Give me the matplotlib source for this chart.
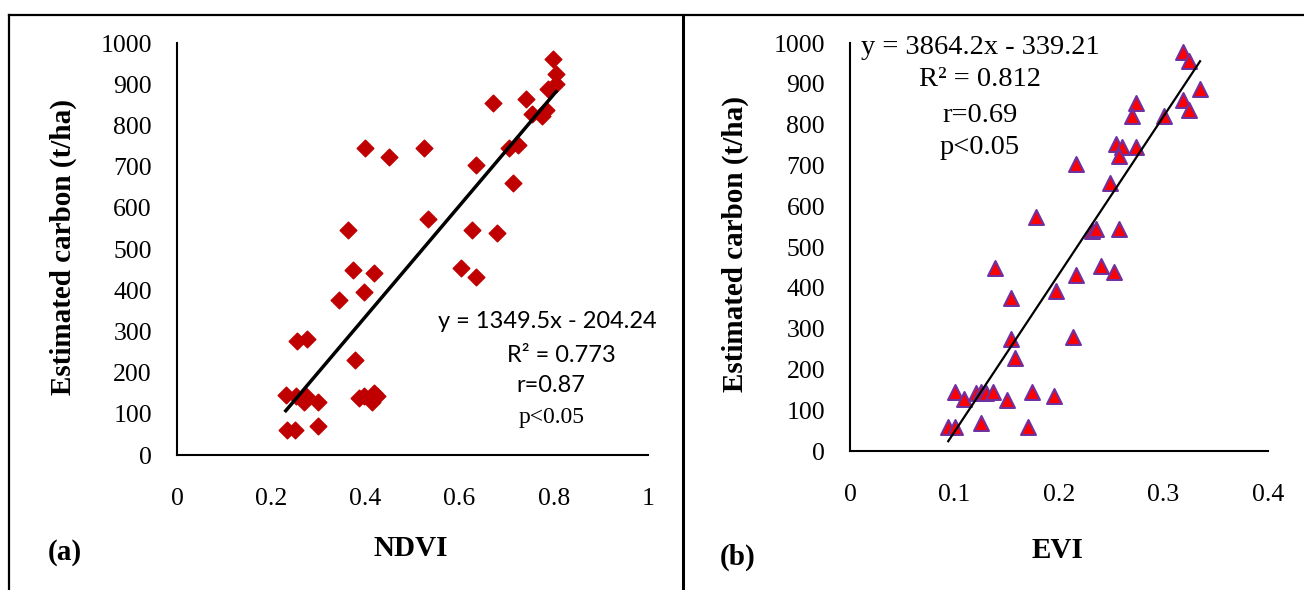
import matplotlib
matplotlib.use("Agg")
import matplotlib.pyplot as plt
from matplotlib.lines import Line2D

# Data
ndvi = [0.798, 0.805, 0.805, 0.787, 0.670, 0.740, 0.753, 0.776, 0.783, 0.400,
        0.451, 0.525, 0.704, 0.723, 0.634, 0.714, 0.533, 0.364, 0.626, 0.679,
        0.373, 0.418, 0.603, 0.635, 0.398, 0.344, 0.255, 0.277, 0.377, 0.231,
        0.253, 0.274, 0.270, 0.299, 0.386, 0.397, 0.418, 0.424, 0.415, 0.233,
        0.251, 0.299]
carbon_ndvi = [960, 924, 900, 888, 855, 864, 827, 823, 837, 744,
               724, 744, 744, 752, 704, 659, 574, 546, 546, 538,
               450, 441, 455, 433, 395, 376, 277, 282, 231, 146,
               144, 144, 128, 128, 138, 144, 150, 144, 128, 61,
               61, 70]

evi = [0.319, 0.324, 0.335, 0.319, 0.324, 0.274, 0.270, 0.300, 0.255, 0.260,
       0.274, 0.257, 0.216, 0.249, 0.178, 0.232, 0.235, 0.257, 0.139, 0.240,
       0.216, 0.253, 0.197, 0.154, 0.154, 0.213, 0.158, 0.100, 0.109, 0.121,
       0.125, 0.130, 0.137, 0.150, 0.174, 0.195, 0.125, 0.094, 0.100, 0.170]
carbon_evi = [979, 957, 887, 860, 837, 854, 821, 821, 752, 744,
              744, 723, 703, 658, 573, 538, 543, 543, 448, 454,
              431, 439, 393, 374, 275, 280, 227, 145, 127, 141,
              145, 143, 145, 125, 145, 135, 69, 58, 58, 58]

ndvi_fit = (1349.5, -204.24)
evi_fit = (3864.2, -339.21)

ndvi_ticks = [0, 0.2, 0.4, 0.6, 0.8, 1]
ndvi_ticklabels = ["0", "0.2", "0.4", "0.6", "0.8", "1"]
evi_ticks = [0, 0.1, 0.2, 0.3, 0.4]
evi_ticklabels = ["0", "0.1", "0.2", "0.3", "0.4"]
y_ticks = list(range(0, 1001, 100))

W, H = 1304, 590
SERIF = "Liberation Serif"
SANS = "Lato"


def fp(x, y):
    # pixel position -> figure fraction
    return x / W, 1 - y / H


fig = plt.figure(figsize=(W / 100, H / 100), dpi=100)
ax1 = fig.add_axes([177 / W, 1 - 455 / H, (648 - 177) / W, (455 - 43) / H])
ax2 = fig.add_axes([850 / W, 1 - 451 / H, (1268 - 850) / W, (451 - 43) / H])

for ax in (ax1, ax2):
    ax.spines["top"].set_visible(False)
    ax.spines["right"].set_visible(False)
    ax.spines["left"].set_linewidth(1.5)
    ax.spines["bottom"].set_linewidth(1.5)
    ax.set_ylim(0, 1000)
    ax.set_yticks(y_ticks)
    ax.tick_params(length=0, labelsize=18.5)
    ax.tick_params(axis="y", pad=18)
    ax.tick_params(axis="x", pad=24)

# (a) NDVI
ax1.set_xlim(0, 1)
ax1.set_xticks(ndvi_ticks)
ax1.set_xticklabels(ndvi_ticklabels)
ax1.scatter(ndvi, carbon_ndvi, marker="D", s=72, color="#C00000", zorder=3)
xs = [min(ndvi), max(ndvi)]
ax1.plot(xs, [ndvi_fit[0] * x + ndvi_fit[1] for x in xs], color="black", lw=2.5, zorder=4)

# (b) EVI
ax2.set_xlim(0, 0.4)
ax2.set_xticks(evi_ticks)
ax2.set_xticklabels(evi_ticklabels)
ax2.scatter(evi, carbon_evi, marker="^", s=115, facecolor="#FF0000",
            edgecolor="#7030A0", linewidth=1.5, zorder=3)
xs = [min(evi), max(evi)]
ax2.plot(xs, [evi_fit[0] * x + evi_fit[1] for x in xs], color="black", lw=1.6, zorder=4)

for ax in (ax1, ax2):
    for lab in ax.get_xticklabels() + ax.get_yticklabels():
        lab.set_fontfamily(SERIF)

# axis titles
ylab = "Estimated carbon (t/ha)"
fig.text(*fp(63, 247), ylab, rotation=90, ha="center", va="center",
         fontfamily=SERIF, fontweight="bold", fontsize=21)
fig.text(*fp(735, 244), ylab, rotation=90, ha="center", va="center",
         fontfamily=SERIF, fontweight="bold", fontsize=21)
fig.text(*fp(411, 548), "NDVI", ha="center", va="center",
         fontfamily=SERIF, fontweight="bold", fontsize=21)
fig.text(*fp(1058, 551), "EVI", ha="center", va="center",
         fontfamily=SERIF, fontweight="bold", fontsize=21)
fig.text(*fp(65, 553), "(a)", ha="center", va="center",
         fontfamily=SERIF, fontweight="bold", fontsize=21)
fig.text(*fp(738, 557), "(b)", ha="center", va="center",
         fontfamily=SERIF, fontweight="bold", fontsize=21)

# regression annotations
fig.text(*fp(547, 322), "y = 1349.5x - 204.24", ha="center", va="center",
         fontfamily=SANS, fontsize=17)
fig.text(*fp(561, 355), "R² = 0.773", ha="center", va="center",
         fontfamily=SANS, fontsize=17)
fig.text(*fp(551, 385), "r=0.87", ha="center", va="center",
         fontfamily=SANS, fontsize=17)
fig.text(*fp(552, 418), "p<0.05", ha="center", va="center",
         fontfamily=SERIF, fontsize=17)

fig.text(*fp(980, 47), "y = 3864.2x - 339.21", ha="center", va="center",
         fontfamily=SERIF, fontsize=20.5)
fig.text(*fp(980, 80), "R² = 0.812", ha="center", va="center",
         fontfamily=SERIF, fontsize=20.5)
fig.text(*fp(980, 115), "r=0.69", ha="center", va="center",
         fontfamily=SERIF, fontsize=20.5)
fig.text(*fp(980, 148), "p<0.05", ha="center", va="center",
         fontfamily=SERIF, fontsize=20.5)

# panel frame lines
top = 1 - 15 / H
fig.add_artist(Line2D([9 / W, 1], [top, top], transform=fig.transFigure, color="black", lw=1.6))
fig.add_artist(Line2D([9 / W, 9 / W], [0, top], transform=fig.transFigure, color="black", lw=1.6))
fig.add_artist(Line2D([683 / W, 683 / W], [0, top], transform=fig.transFigure, color="black", lw=2.2))

fig.savefig("out.png", dpi=100)
